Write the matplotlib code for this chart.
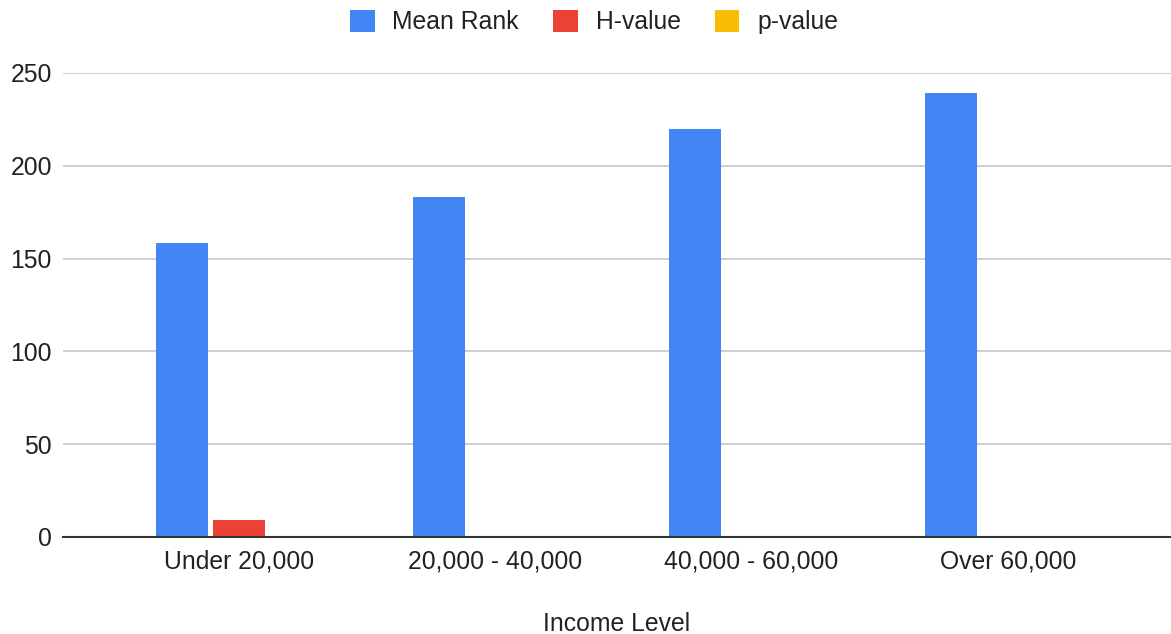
import numpy as np
import matplotlib
matplotlib.use("Agg")
import matplotlib.pyplot as plt
from matplotlib.patches import Patch

plt.rcParams['font.family'] = ['Liberation Sans', 'DejaVu Sans']

categories = ["Under 20,000", "20,000 - 40,000", "40,000 - 60,000", "Over 60,000"]
mean_rank = [158.2, 183.3, 219.8, 239.0]
h_value = [9.1, np.nan, np.nan, np.nan]
p_value = [0.03, np.nan, np.nan, np.nan]
series_names = ["Mean Rank", "H-value", "p-value"]
colors = ["#4285F4", "#EA4335", "#FBBC04"]

fs = 17.8
text_color = '#222222'

fig = plt.figure(figsize=(11.71, 6.34), dpi=100)
ax = fig.add_axes([63 / 1171, 97 / 634, 1 - 63 / 1171, 464 / 634])

x = np.arange(len(categories))
step = 0.22
width = 0.203
for i, (vals, c) in enumerate(zip([mean_rank, h_value, p_value], colors)):
    ax.bar(x + (i - 1) * step, vals, width=width, color=c, zorder=3)

ax.set_xlim(-0.686, 3.637)
ax.set_ylim(0, 250)
ax.set_yticks([0, 50, 100, 150, 200, 250])
ax.set_xticks(x)
ax.set_xticklabels(categories)

ax.grid(axis='y', color='#cccccc', linewidth=1.3, zorder=0)
for s in ['top', 'right', 'left']:
    ax.spines[s].set_visible(False)
ax.spines['bottom'].set_color('#333333')
ax.spines['bottom'].set_linewidth(1.5)
ax.spines['bottom'].set_zorder(4)

ax.tick_params(axis='both', length=0, labelsize=fs, labelcolor=text_color)
ax.tick_params(axis='y', pad=8)
ax.tick_params(axis='x', pad=9)

ax.set_xlabel("Income Level", fontsize=fs, color=text_color, va='baseline')
ax.xaxis.set_label_coords(0.5, -(631 - 537) / 464)

handles = [Patch(facecolor=c, edgecolor='none') for c in colors]
fig.legend(handles, series_names, loc='center', bbox_to_anchor=(594 / 1171, 1 - 22 / 634),
           ncol=3, frameon=False, fontsize=fs, handlelength=1.0, handleheight=1.0,
           handletextpad=0.72, columnspacing=1.38, labelcolor=text_color)

fig.savefig("out.png", dpi=100)
